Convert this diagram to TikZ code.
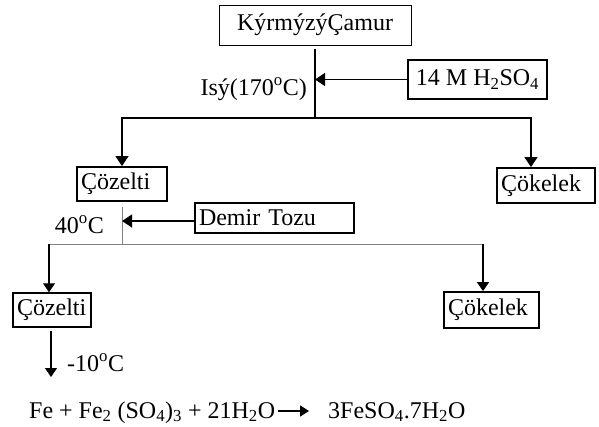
\documentclass[tikz,border=0pt]{standalone}
\usepackage{fontspec}
\setmainfont{Liberation Serif}
\usetikzlibrary{arrows.meta}
\tikzset{
  txt/.style={font=\fontsize{24}{28}\selectfont, inner sep=0pt},
  box/.style={txt, draw, line width=#1, inner sep=0pt},
  lbox/.style={align=left, inner xsep=4pt},
  blk/.style={line width=1.3pt},
  gry/.style={line width=0.9pt, draw=black!50},
  arr/.style={blk, -{Triangle[length=10pt,width=13pt]}},
  arrs/.style={line width=1.2pt, -{Triangle[length=9pt,width=12pt]}},
  arre/.style={line width=1.6pt, -{Triangle[length=9pt,width=11pt]}}
}
\begin{document}
\begin{tikzpicture}[x=1pt,y=-1pt]
\useasboundingbox (0,0) rectangle (599,426);
% boxes
\node[box=0.8pt, minimum width=192pt, minimum height=40pt] (kc) at (315,25) {KýrmýzýÇamur};
\node[box=1.2pt, minimum width=139pt, minimum height=39pt] (h2) at (477.5,79.5) {14 M H\textsubscript{2}SO\textsubscript{4}};
\node[box=1.8pt, lbox, text width=82pt, minimum height=34pt] (cz1) at (122,184) {Çözelti};
\node[box=1.8pt, lbox, text width=90pt, minimum height=35pt] (ck1) at (546,185.5) {Çökelek};
\node[box=1.2pt, lbox, text width=151pt, minimum height=30pt] (dt) at (274.5,218) {Demir Tozu};
\node[box=1.5pt, lbox, text width=70pt, minimum height=34pt] (cz2) at (52,310) {Çözelti};
\node[box=1.8pt, lbox, text width=87pt, minimum height=36pt] (ck2) at (491.5,310) {Çökelek};
% labels
\node[txt, anchor=base east] (isy) at (307,95) {Isý(170\textsuperscript{o}C)};
\node[txt, anchor=base east] (t40) at (104,233) {40\textsuperscript{o}C};
\node[txt, anchor=base west] (t10) at (67,371) {-10\textsuperscript{o}C};
\node[txt, anchor=base west] (eqL) at (29,418) {Fe + Fe\textsubscript{2} (SO\textsubscript{4})\textsubscript{3} + 21H\textsubscript{2}O};
\node[txt, anchor=base west] (eqR) at (328,418) {3FeSO\textsubscript{4}.7H\textsubscript{2}O};
% coordinates
\coordinate (t1) at (315,49);
\coordinate (j1) at (315,118);
\coordinate (j1r) at (531,118);
\coordinate (t2) at (122,207);
\coordinate (j2) at (122,244);
\coordinate (j2l) at (49,244);
\coordinate (j2r) at (483,244);
\coordinate (a2) at (51,377);
% first level
\draw[blk] (t1) -- (j1);
\draw[arr] (h2.west) -- (h2.west -| j1);
\draw[arr] (j1) -| (cz1.north);
\draw[arr] (j1) -| (ck1.north -| j1r);
% second level
\draw[gry] (t2) -- (j2);
\draw[gry] (j2l) -- (j2r);
\draw[arr] ([yshift=-3pt]dt.west) -- ([yshift=-3pt]dt.west -| t2);
\draw[arrs] (j2l) -- (cz2.north -| j2l);
\draw[arrs] (j2r) -- (ck2.north -| j2r);
% cooling
\draw[arrs] ([yshift=-3pt]cz2.south -| a2) -- (a2);
% equation arrow
\draw[arre] ([shift={(3,-7)}]eqL.base east) -- ([shift={(-19,-7)}]eqR.base west);
\end{tikzpicture}
\end{document}
